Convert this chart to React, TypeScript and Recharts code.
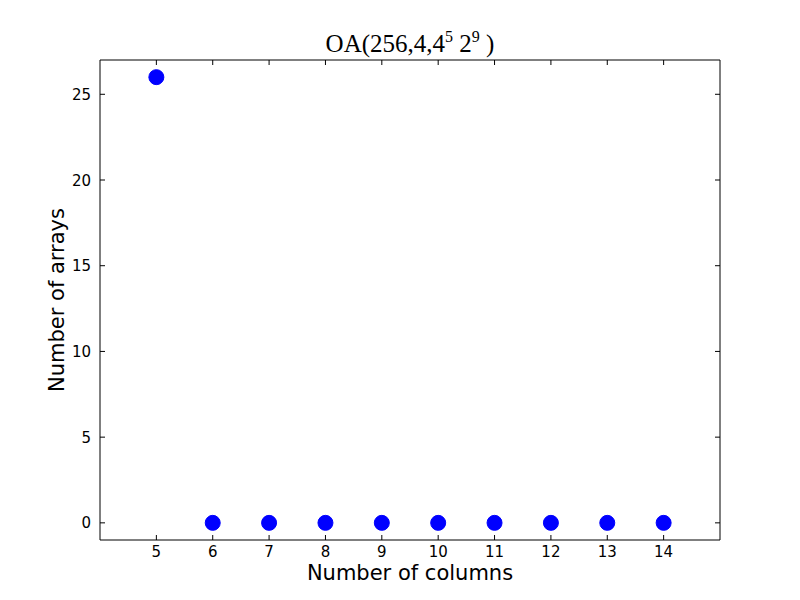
import { ScatterChart, Scatter, XAxis, YAxis, Label } from "recharts";

const columns = [5, 6, 7, 8, 9, 10, 11, 12, 13, 14];
const arrays = [26, 0, 0, 0, 0, 0, 0, 0, 0, 0];
const xTicks = [5, 6, 7, 8, 9, 10, 11, 12, 13, 14];
const yTicks = [0, 5, 10, 15, 20, 25];

const data = columns.map((c, i) => ({ columns: c, arrays: arrays[i] }));

const TICK_LEN = 5;
const FONT = "'DejaVu Sans', sans-serif";

// matplotlib-style inward ticks: draw the tick line and the label ourselves
function BottomTick(props: any) {
  const { x, y, payload } = props;
  const axisY = y - 8;
  return (
    <g>
      <line x1={x} y1={axisY} x2={x} y2={axisY - TICK_LEN} stroke="#000" />
      <text x={x} y={y + 9} textAnchor="middle" fontSize={15} fontFamily={FONT} fill="#000">
        {payload.value}
      </text>
    </g>
  );
}

function LeftTick(props: any) {
  const { x, y, payload } = props;
  const axisX = x + 8;
  return (
    <g>
      <line x1={axisX} y1={y} x2={axisX + TICK_LEN} y2={y} stroke="#000" />
      <text x={x - 1} y={y + 5.5} textAnchor="end" fontSize={15} fontFamily={FONT} fill="#000">
        {payload.value}
      </text>
    </g>
  );
}

function TopTick(props: any) {
  const { x, y } = props;
  return <line x1={x} y1={y} x2={x} y2={y + TICK_LEN} stroke="#000" />;
}

function RightTick(props: any) {
  const { x, y } = props;
  return <line x1={x} y1={y} x2={x - TICK_LEN} y2={y} stroke="#000" />;
}

function Dot(props: any) {
  const { cx, cy } = props;
  return <circle cx={cx} cy={cy} r={7.5} fill="#0000ff" stroke="#0000ff" />;
}

export default function App() {
  return (
    <div style={{ position: "absolute", left: 0, top: 0, background: "#fff" }}>
      <ScatterChart width={800} height={600} margin={{ top: 59, right: 79, bottom: 0, left: 40 }}>
        <XAxis
          xAxisId="bottom"
          type="number"
          dataKey="columns"
          domain={[4, 15]}
          ticks={xTicks}
          allowDataOverflow
          height={60}
          tickSize={0}
          tickMargin={8}
          tickLine={false}
          tick={<BottomTick />}
          axisLine={{ stroke: "#000" }}
        >
          <Label
            content={(p: any) => (
              <text
                x={p.viewBox.x + p.viewBox.width / 2}
                y={580}
                textAnchor="middle"
                fontSize={21}
                fontFamily={FONT}
                fill="#000"
              >
                Number of columns
              </text>
            )}
          />
        </XAxis>
        <XAxis
          xAxisId="top"
          orientation="top"
          type="number"
          dataKey="columns"
          domain={[4, 15]}
          ticks={xTicks}
          allowDataOverflow
          height={1}
          tickSize={0}
          tickMargin={0}
          tickLine={false}
          tick={<TopTick />}
          axisLine={{ stroke: "#000" }}
        >
          <Label
            content={(p: any) => (
              <text
                x={p.viewBox.x + p.viewBox.width / 2}
                y={52}
                textAnchor="middle"
                fontSize={25}
                fontFamily="'Liberation Serif', serif"
                fill="#000"
              >
                OA(256,4,4
                <tspan fontSize={16} dy={-10}>5</tspan>
                <tspan dy={10}> 2</tspan>
                <tspan fontSize={16} dy={-10}>9</tspan>
                <tspan dy={10}> )</tspan>
              </text>
            )}
          />
        </XAxis>
        <YAxis
          yAxisId="left"
          type="number"
          dataKey="arrays"
          domain={[-1, 27]}
          ticks={yTicks}
          allowDataOverflow
          width={60}
          tickSize={0}
          tickMargin={8}
          tickLine={false}
          tick={<LeftTick />}
          axisLine={{ stroke: "#000" }}
        >
          <Label
            content={(p: any) => {
              const cy = p.viewBox.y + p.viewBox.height / 2;
              return (
                <text
                  x={64}
                  y={cy}
                  transform={`rotate(-90, 64, ${cy})`}
                  textAnchor="middle"
                  fontSize={21}
                  fontFamily={FONT}
                  fill="#000"
                >
                  Number of arrays
                </text>
              );
            }}
          />
        </YAxis>
        <YAxis
          yAxisId="right"
          orientation="right"
          type="number"
          dataKey="arrays"
          domain={[-1, 27]}
          ticks={yTicks}
          allowDataOverflow
          width={1}
          tickSize={0}
          tickMargin={0}
          tickLine={false}
          tick={<RightTick />}
          axisLine={{ stroke: "#000" }}
        />
        <Scatter
          data={data}
          xAxisId="bottom"
          yAxisId="left"
          fill="#0000ff"
          shape={<Dot />}
          isAnimationActive={false}
        />
      </ScatterChart>
    </div>
  );
}
